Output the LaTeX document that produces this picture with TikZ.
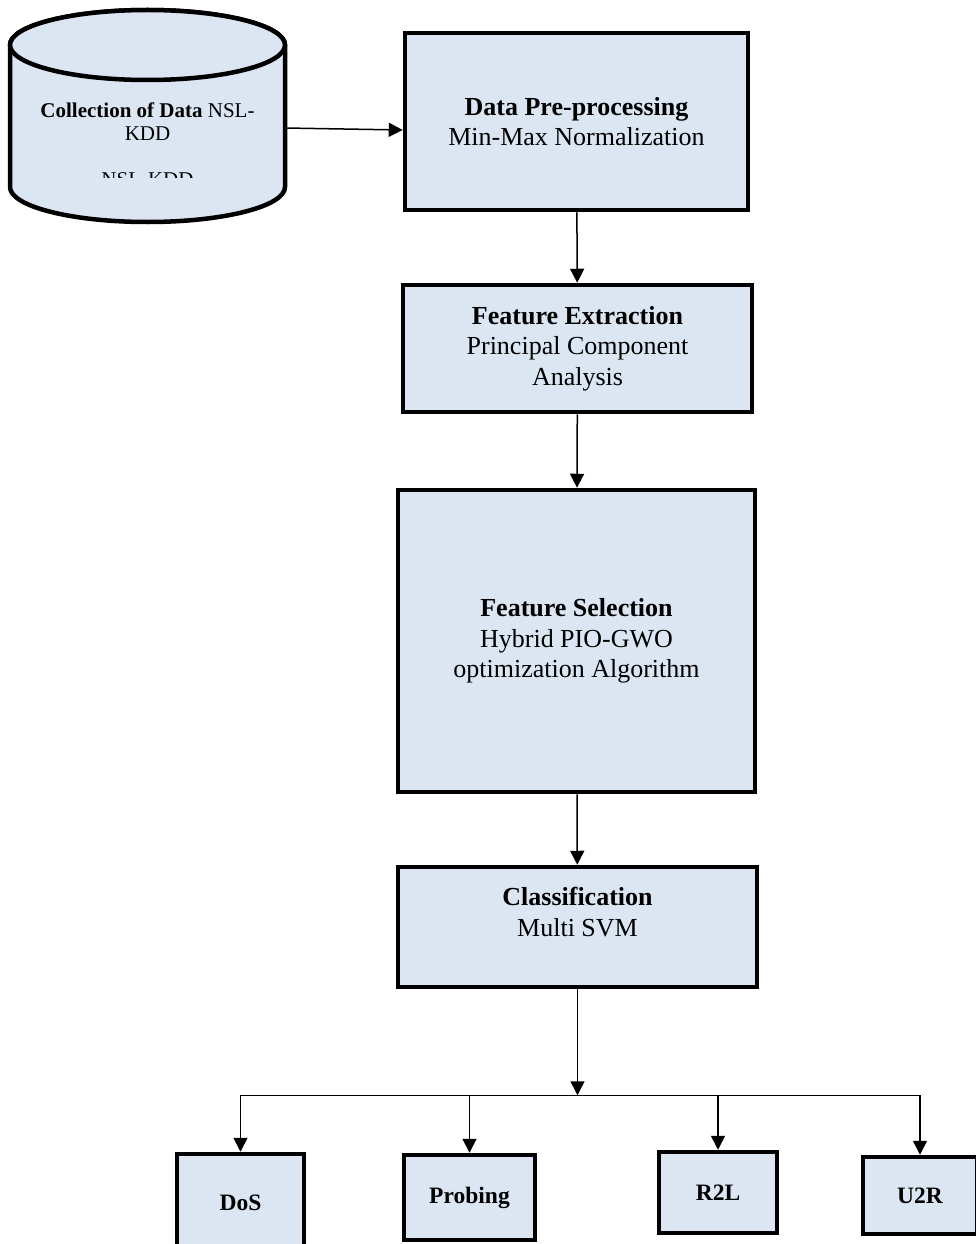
\documentclass[tikz,border=0pt]{standalone}
\usepackage{fontspec}
\setmainfont{Liberation Serif}
\usepackage{tikz}
\usetikzlibrary{arrows.meta, positioning}
\definecolor{boxblue}{HTML}{DCE6F2}
\tikzset{
  stage/.style={draw, line width=4.5pt, fill=boxblue, align=center,
    font=\fontsize{26}{30.5}\selectfont},
  attack/.style={draw, line width=4.5pt, fill=boxblue,
    font=\bfseries\fontsize{23.5}{28}\selectfont},
}

\begin{document}
\begin{tikzpicture}[x=1pt,y=-1pt,line width=1.5pt,-{Triangle[length=14pt,width=14pt]}]
        \useasboundingbox (0,0) rectangle (976,1244);
        % data base
        \draw[-, line width=4.5pt, fill=boxblue] (10,45) -- (10,187)
          arc[start angle=180, end angle=360, x radius=137.5pt, y radius=35pt]
          -- (285,45) arc[start angle=0, end angle=180, x radius=137.5pt, y radius=35pt] -- cycle;
        \draw[-, line width=4.5pt, fill=boxblue] (147.5,45) ellipse [x radius=137.5pt, y radius=35pt];
        \node[align=center, font=\fontsize{21}{23}\selectfont, minimum width=275pt] (data) at (147.5,122)
          {\textbf{Collection of Data} NSL-\\KDD};
        \begin{scope}
          \clip (20,150) rectangle (275,177.5);
          \node[font=\fontsize{21}{23}\selectfont] (nsl) at (147.5,180) {NSL-KDD};
        \end{scope}
        \node[stage, minimum width=343pt, minimum height=177pt] (pre) at (576.5,121.5)
          {\textbf{Data Pre-processing}\\Min-Max Normalization};
        \node[stage, minimum width=349pt, minimum height=127pt] (ext) at (577.5,348.5)
          {\textbf{Feature Extraction}\\Principal Component\\Analysis};
        \node[stage, minimum width=357pt, minimum height=302pt] (sel) at (576.5,641)
          {\textbf{Feature Selection}\\Hybrid PIO-GWO\\optimization Algorithm};
        \node[stage, minimum width=359pt, minimum height=120pt] (cls) at (577.5,927)
          {\textbf{Classification}\\Multi SVM\\\mbox{}};
        \node[attack, minimum width=127pt, minimum height=98pt] (dos) at (240.5,1203) {DoS};
        \node[attack, minimum width=131pt, minimum height=85pt] (prob) at (469.5,1197.5) {Probing};
        \node[attack, minimum width=118pt, minimum height=81pt] (r2l) at (718,1192.5) {R2L};
        \node[attack, minimum width=114pt, minimum height=77pt] (u2r) at (920,1195.5) {U2R};
        \coordinate (bus) at ([yshift=-106pt]cls.south);
        \draw ([xshift=-1pt,yshift=-6pt]data.east) -- ([yshift=-8.5pt]pre.west);
        \draw (pre) -- (ext);
        \draw (ext) -- (sel);
        \draw (sel) -- (cls);
        \draw (cls) -- (bus);
        \draw[-] (dos.north |- bus) -- (u2r.north |- bus);
        \foreach \n in {dos,prob,r2l,u2r}
          \draw (\n.north |- bus) -- (\n);
\end{tikzpicture}
\end{document}
